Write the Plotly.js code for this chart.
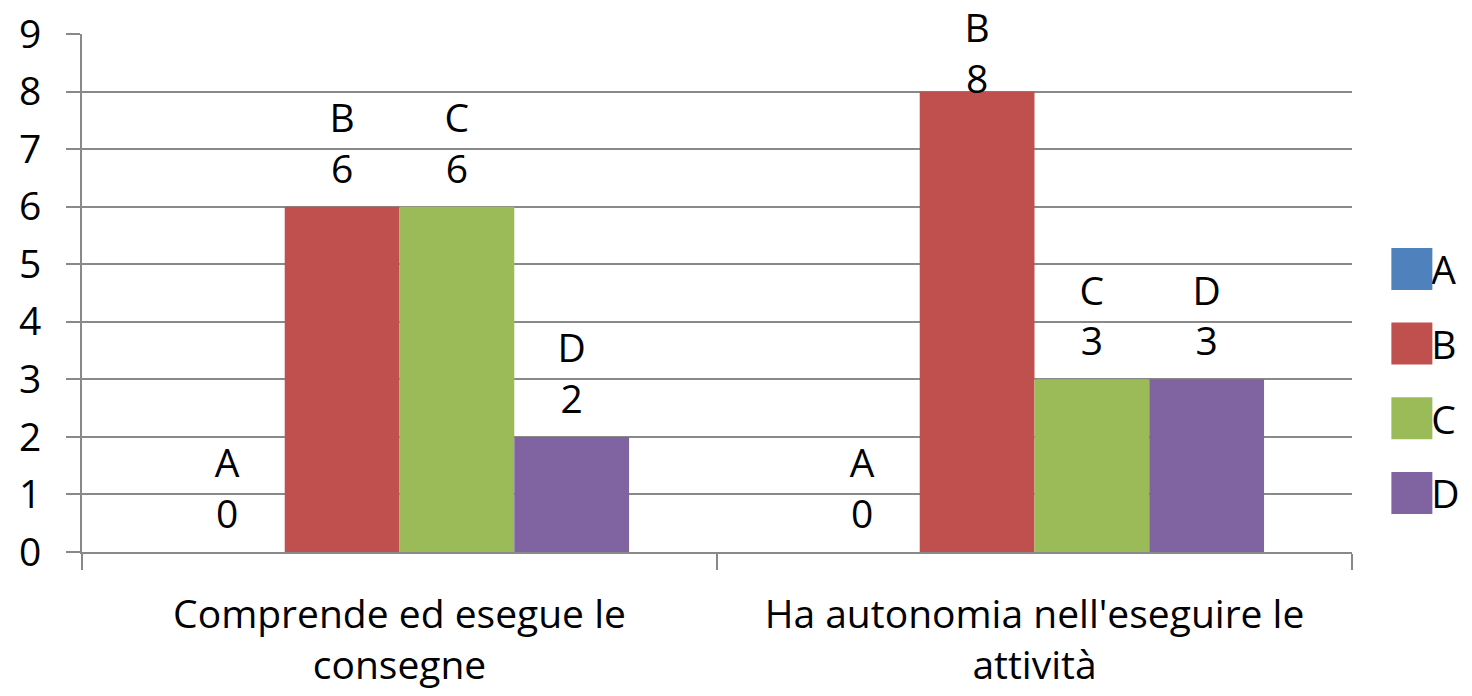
<!DOCTYPE html>
<html>
<head>
<meta charset="utf-8">
<script src="https://cdn.plot.ly/plotly-3.0.1.min.js"></script>
<style>
  html, body { margin: 0; padding: 0; background: #fff; }
  #chart { width: 1472px; height: 696px; }
</style>
</head>
<body>
<div id="chart"></div>
<script>
const categories = ["Comprende ed esegue le<br>consegne", "Ha autonomia nell'eseguire le<br>attività"];
const seriesNames = ["A", "B", "C", "D"];
const valuesA = [0, 0];
const valuesB = [6, 8];
const valuesC = [6, 3];
const valuesD = [2, 3];
const yTickVals = [0, 1, 2, 3, 4, 5, 6, 7, 8, 9];

const seriesValues = [valuesA, valuesB, valuesC, valuesD];
const colors = ["#4F81BD", "#C0504D", "#9BBB59", "#8064A2"];
const FONT = "Open Sans, sans-serif";
const FS = 39;
const GRID = "#898989";

const traces = seriesNames.map((name, i) => ({
  type: "bar",
  name: name,
  x: categories,
  y: seriesValues[i],
  legendgroup: name,
  marker: { color: colors[i], line: { width: 0 } },
  texttemplate: name + "<br>%{y}",
  textposition: "outside",
  textfont: { family: FONT, size: FS, color: "#000" },
  cliponaxis: false,
  hoverinfo: "skip"
}));

const layout = {
  width: 1472,
  height: 696,
  margin: { l: 82, r: 120, t: 34, b: 144, autoexpand: false },
  paper_bgcolor: "#fff",
  plot_bgcolor: "#fff",
  font: { family: FONT, size: FS, color: "#000" },
  barmode: "group",
  bargap: 0.277,
  bargroupgap: 0,
  showlegend: true,
  legend: {
    x: 1.031, xanchor: "left",
    y: 0.33, yanchor: "middle",
    traceorder: "grouped",
    tracegroupgap: 21,
    font: { family: FONT, size: FS, color: "#000" },
    bgcolor: "rgba(0,0,0,0)"
  },
  xaxis: {
    type: "category",
    automargin: false,
    showgrid: false,
    zeroline: false,
    showline: true,
    linecolor: GRID,
    linewidth: 2,
    ticks: "outside",
    tickson: "boundaries",
    ticklen: 16,
    tickwidth: 2,
    tickcolor: GRID,
    tickfont: { family: FONT, size: FS, color: "#000" },
    ticklabelstandoff: 27
  },
  yaxis: {
    automargin: false,
    range: [0, 9],
    tickvals: yTickVals,
    ticktext: yTickVals.map(String),
    showgrid: true,
    gridcolor: GRID,
    gridwidth: 2,
    zeroline: false,
    showline: true,
    linecolor: GRID,
    linewidth: 2,
    ticks: "outside",
    ticklen: 14,
    tickwidth: 2,
    tickcolor: GRID,
    tickfont: { family: FONT, size: FS, color: "#000" },
    ticklabelstandoff: 17
  }
};

Plotly.newPlot("chart", traces, layout, { staticPlot: true }).then(gd => {
  // enlarge legend swatches like the original
  gd.querySelectorAll(".legend .legendpoints path").forEach(p => {
    const t = p.getAttribute("transform") || "";
    p.setAttribute("transform", t + " scale(3.5)");
  });
  // lift data labels a bit off the bars and keep them inside the chart area
  const top = gd.getBoundingClientRect().top;
  gd.querySelectorAll(".bars .point text").forEach(tx => {
    let t = tx.getAttribute("transform") || "";
    let shift = -10;
    tx.setAttribute("transform", "translate(0," + shift + ") " + t);
    const r = tx.getBoundingClientRect();
    if (r.top - top < 0) {
      shift += (top - r.top);
      tx.setAttribute("transform", "translate(0," + shift + ") " + t);
    }
  });
});
</script>
</body>
</html>
